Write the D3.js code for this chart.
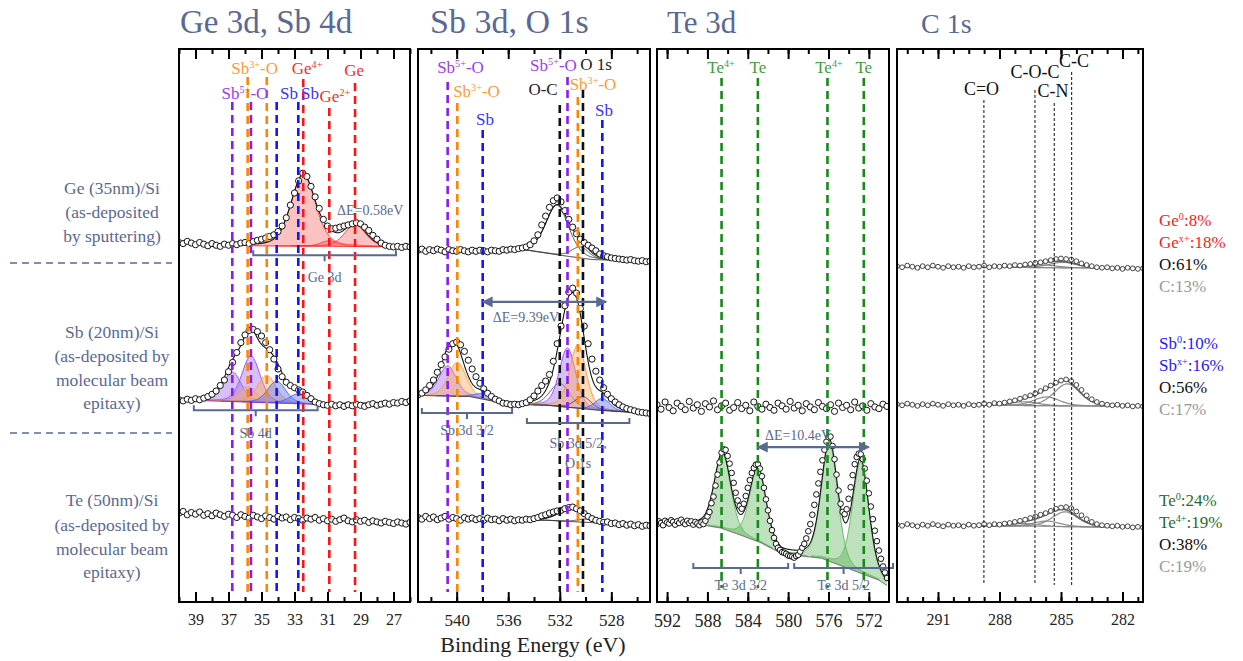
<!DOCTYPE html>
<html>
<head>
<meta charset="utf-8">
<script src="https://cdn.jsdelivr.net/npm/d3@7"></script>
<style>
  body { margin: 0; background: #fff; }
  svg, svg text { font-family: "Liberation Serif", "Times New Roman", serif; }
</style>
</head>
<body>
<svg id="chart" width="1243" height="661"></svg>
<script>
// ---- measured counts (a.u.), one array per film / core level ----
// Ge 3d, Sb 4d window: 40 -> 26 eV, 0.25 eV steps
const geFilmGe3d = [6.50,6.48,6.52,6.49,6.46,6.50,6.47,6.44,6.48,6.45,6.43,6.47,6.45,6.48,6.46,6.49,6.50,6.48,6.52,6.54,6.56,6.58,6.61,6.64,6.70,6.80,6.95,7.18,7.40,7.62,7.76,7.70,7.52,7.33,7.12,6.92,6.80,6.75,6.76,6.78,6.80,6.82,6.84,6.86,6.84,6.78,6.72,6.63,6.56,6.49,6.45,6.43,6.42,6.43,6.41,6.43,6.42]
const sbFilmGe3d = [3.64,3.62,3.65,3.63,3.66,3.64,3.67,3.70,3.74,3.80,3.90,4.00,4.15,4.32,4.50,4.68,4.82,4.90,4.92,4.88,4.80,4.68,4.55,4.38,4.20,4.06,3.96,3.90,3.86,3.82,3.78,3.72,3.66,3.60,3.57,3.55,3.54,3.56,3.53,3.55,3.52,3.55,3.53,3.56,3.54,3.52,3.55,3.57,3.54,3.56,3.58,3.56,3.59,3.58,3.61,3.59,3.62]
const teFilmGe3d = [1.58,1.61,1.55,1.59,1.56,1.60,1.54,1.57,1.53,1.58,1.55,1.52,1.56,1.54,1.50,1.55,1.52,1.49,1.54,1.51,1.48,1.53,1.50,1.47,1.52,1.49,1.51,1.46,1.50,1.48,1.45,1.49,1.47,1.50,1.45,1.48,1.44,1.47,1.43,1.46,1.49,1.44,1.42,1.46,1.43,1.45,1.41,1.44,1.42,1.40,1.43,1.41,1.39,1.42,1.40,1.38,1.41]

// Sb 3d, O 1s window: 543 -> 525 eV, 0.3 eV steps
const geFilmSb3d = [6.36,6.38,6.34,6.37,6.35,6.38,6.36,6.33,6.37,6.35,6.34,6.37,6.35,6.33,6.36,6.34,6.36,6.35,6.33,6.36,6.35,6.34,6.37,6.36,6.38,6.37,6.39,6.40,6.42,6.46,6.53,6.64,6.82,6.98,7.14,7.26,7.31,7.24,7.08,6.92,6.78,6.66,6.56,6.50,6.45,6.40,6.35,6.29,6.26,6.24,6.22,6.21,6.20,6.19,6.18,6.19,6.17,6.16,6.17,6.15,6.16]
const sbFilmSb3d = [3.73,3.76,3.82,3.90,4.00,4.14,4.28,4.42,4.56,4.66,4.69,4.64,4.52,4.36,4.20,4.06,3.94,3.84,3.76,3.70,3.65,3.62,3.58,3.57,3.55,3.56,3.55,3.57,3.59,3.64,3.71,3.80,3.90,3.98,4.10,4.34,4.66,4.98,5.35,5.60,5.67,5.58,5.30,4.98,4.66,4.38,4.16,4.00,3.86,3.74,3.66,3.60,3.55,3.51,3.48,3.46,3.44,3.42,3.41,3.40,3.39]
const teFilmSb3d = [1.50,1.47,1.52,1.48,1.51,1.46,1.49,1.52,1.47,1.50,1.48,1.45,1.50,1.47,1.49,1.46,1.48,1.45,1.49,1.46,1.47,1.44,1.48,1.45,1.47,1.44,1.46,1.45,1.47,1.46,1.48,1.50,1.53,1.55,1.58,1.60,1.62,1.63,1.66,1.68,1.69,1.66,1.62,1.57,1.52,1.48,1.45,1.43,1.41,1.42,1.39,1.40,1.37,1.39,1.36,1.38,1.35,1.37,1.34,1.36,1.35]

// Te 3d window: 593 -> 570.2 eV (Sb film 0.4 eV steps, Te film 0.2 eV steps)
const sbFilmTe3d = [3.55,3.47,3.60,3.50,3.44,3.58,3.52,3.46,3.61,3.49,3.55,3.43,3.57,3.51,3.62,3.46,3.53,3.58,3.45,3.50,3.59,3.48,3.54,3.44,3.60,3.52,3.47,3.56,3.50,3.45,3.58,3.53,3.47,3.61,3.49,3.54,3.44,3.57,3.51,3.46,3.59,3.52,3.48,3.55,3.43,3.58,3.50,3.54,3.46,3.60,3.49,3.53,3.45,3.57,3.51,3.48,3.56,3.52]
const teFilmTe3d = [
  1.38,1.43,1.40,1.36,1.44,1.41,1.39,1.45,1.42,1.37,1.43,1.40,1.46,1.41,1.38,1.44,1.40,1.43,1.37,1.42,1.39,1.36,1.41,1.38,1.44,
  1.52,1.60,1.76,1.88,2.08,2.28,2.50,2.68,2.74,2.73,2.62,2.48,2.31,2.13,1.95,1.81,1.71,1.66,1.75,1.89,
  2.04,2.18,2.31,2.40,2.46,2.47,2.39,2.25,2.04,1.83,1.63,1.44,1.27,1.13,1.02,0.95,0.91,0.87,0.86,0.84,
  0.81,0.80,0.79,0.77,0.80,0.82,0.88,0.95,1.02,1.12,1.25,1.38,1.55,1.73,1.92,2.12,2.33,2.54,2.73,2.88,
  2.96,2.97,2.80,2.56,2.28,1.99,1.75,1.60,1.56,1.65,1.84,2.05,2.27,2.47,2.60,2.66,2.65,2.56,2.39,2.17,
  1.94,1.70,1.47,1.26,1.07,0.90,0.75,0.61,0.50,0.40]

// C 1s window: 293 -> 281 eV, 0.25 eV steps
const geFilmC1s = [6.07,6.05,6.08,6.06,6.04,6.07,6.05,6.08,6.06,6.04,6.07,6.05,6.06,6.04,6.07,6.05,6.06,6.08,6.05,6.07,6.06,6.08,6.07,6.09,6.08,6.10,6.11,6.13,6.14,6.16,6.18,6.20,6.21,6.20,6.19,6.16,6.12,6.09,6.07,6.05,6.04,6.05,6.03,6.04,6.02,6.04,6.03,6.02,6.03]
const sbFilmC1s = [3.56,3.54,3.57,3.55,3.53,3.56,3.54,3.57,3.55,3.53,3.56,3.54,3.55,3.53,3.56,3.54,3.55,3.57,3.55,3.58,3.57,3.59,3.61,3.63,3.66,3.69,3.72,3.76,3.80,3.85,3.90,3.95,3.99,4.01,3.98,3.91,3.82,3.72,3.65,3.60,3.57,3.55,3.54,3.55,3.53,3.54,3.52,3.53,3.52]
const teFilmC1s = [1.37,1.35,1.38,1.36,1.34,1.37,1.35,1.38,1.36,1.34,1.37,1.35,1.36,1.34,1.37,1.35,1.36,1.38,1.36,1.38,1.37,1.39,1.40,1.42,1.44,1.46,1.49,1.52,1.55,1.58,1.62,1.66,1.68,1.69,1.67,1.61,1.54,1.47,1.42,1.38,1.36,1.35,1.34,1.35,1.33,1.34,1.32,1.33,1.32]

// ---- peak fits: [centre eV, height, FWHM eV, chemical state] and background knots [eV, a.u.] ----
const fitGeFilmGe3d = [[32.47,1.30,1.75,'Ge'],[30.89,0.10,1.2,'Ge'],[29.33,0.40,1.5,'Ge']]
const bgGeFilmGe3d = [[40,6.48],[35.5,6.44],[26,6.42]]
const fitSbFilmGe3d = [[36.77,0.54,1.3,'Sb5+'],[35.64,0.84,1.3,'Sb5+'],[35.84,0.28,1.2,'Sb3+'],[34.68,0.50,1.3,'Sb3+'],[34.08,0.40,1.3,'Sb0'],[32.77,0.18,1.3,'Sb0']]
const bgSbFilmGe3d = [[40,3.64],[31,3.55],[26,3.60]]
const fitGeFilmSb3d = [[532.2,0.90,2.1,'O'],[530.4,0.20,1.6,'O']]
const bgGeFilmSb3d = [[543,6.36],[534.5,6.36],[532,6.27],[529.5,6.19],[525,6.16]]
const fitSbFilmSb3d = [[540.7,0.55,1.6,'Sb5+'],[539.95,0.62,1.6,'Sb3+'],[537.98,0.10,1.4,'Sb0'],[532.0,0.42,1.8,'O'],[531.4,1.08,1.5,'Sb5+'],[530.6,1.15,1.5,'Sb3+'],[530.2,0.22,1.5,'O'],[528.7,0.22,1.4,'Sb0']]
const bgSbFilmSb3d = [[543,3.72],[539,3.70],[536,3.56],[533,3.54],[529,3.45],[525,3.39]]
const fitTeFilmSb3d = [[531.2,0.22,2.2,'O'],[530.0,0.06,1.5,'O']]
const bgTeFilmSb3d = [[543,1.48],[533,1.45],[529,1.40],[525,1.35]]
const fitTeFilmTe3d = [[586.5,1.36,1.9,'Te'],[583.0,1.33,1.9,'Te'],[575.9,2.15,1.9,'Te'],[572.8,2.02,1.9,'Te']]
const bgTeFilmTe3d = [[593,1.38],[588.7,1.37],[586.7,1.31],[584.7,1.18],[582.7,1.04],[580.7,0.85],[578.7,0.80],[576.7,0.76],[573.7,0.55],[571,0.36],[570,0.24]]
const fitGeFilmC1s = [[284.9,0.10,1.6,'C'],[285.9,0.05,1.6,'C'],[288.6,0.02,1.6,'C']]
const bgGeFilmC1s = [[293,6.06],[281,6.03]]
const fitSbFilmC1s = [[284.7,0.40,1.5,'C'],[285.7,0.16,1.5,'C'],[286.8,0.07,1.6,'C'],[288.7,0.02,1.6,'C']]
const bgSbFilmC1s = [[293,3.55],[281,3.52]]
const fitTeFilmC1s = [[284.8,0.27,1.5,'C'],[285.7,0.10,1.5,'C'],[286.8,0.05,1.6,'C']]
const bgTeFilmC1s = [[293,1.36],[281,1.32]]

// ---- reference binding energies (dashed markers) ----
const ge3dRefE = [36.77, 35.64, 35.84, 34.68, 34.08, 32.77, 32.47, 30.89, 29.33]
const ge3dRefState = ['Sb5+','Sb5+','Sb3+','Sb3+','Sb0','Sb0','Ge','Ge','Ge']
const sb3dRefE = [540.7, 539.95, 537.98, 532.0, 531.4, 530.6, 530.2, 528.7]
const sb3dRefState = ['Sb5+','Sb3+','Sb0','O','Sb5+','Sb3+','O','Sb0']
const te3dRefE = [586.6, 583.0, 576.1, 572.5]
const te3dRefState = ['Te','Te','Te','Te']
const c1sRefE = [288.76, 286.27, 285.33, 284.48]
const c1sRefState = ['C','C','C','C']

// ---- atomic composition (%) ----
const compGeFilm = [8, 18, 61, 13]
const compSbFilm = [10, 16, 56, 17]
const compTeFilm = [24, 19, 38, 19]
const compGeNames = ['Ge^0^', 'Ge^x+^', 'O', 'C']
const compSbNames = ['Sb^0^', 'Sb^x+^', 'O', 'C']
const compTeNames = ['Te^0^', 'Te^4+^', 'O', 'C']

const filmNames = [
  ['Ge (35nm)/Si', '(as-deposited', 'by sputtering)'],
  ['Sb (20nm)/Si', '(as-deposited by', 'molecular beam', 'epitaxy)'],
  ['Te (50nm)/Si', '(as-deposited by', 'molecular beam', 'epitaxy)']
]

// ---- styles ----
const slate = '#5a6994'
const stateStyle = {
  'Sb5+': { line: '#8a1cf2', label: '#9a3df5', fill: 'rgba(165,115,238,0.45)', stroke: '#9b4df0', w: 1 },
  'Sb3+': { line: '#ff8400', label: '#ff9a3a', fill: 'rgba(252,172,100,0.45)', stroke: '#ff9940', w: 1 },
  Sb0: { line: '#1414ff', label: '#3535ff', fill: 'rgba(95,115,245,0.45)', stroke: '#4a5cff', w: 1 },
  Ge: { line: '#ff1414', label: '#ff2a2a', fill: 'rgba(245,110,110,0.42)', stroke: '#ff3030', w: 1 },
  Te: { line: '#178a17', label: '#3f9f3f', fill: 'rgba(80,175,80,0.38)', stroke: '#66bb66', w: 1 },
  O: { line: '#111', label: '#222', fill: null, stroke: '#222', w: 0.8 },
  C: { line: '#111', label: '#111', fill: null, stroke: '#8a8a8a', w: 1.2 }
}
const compColors = [
  ['#ff1a1a', '#ff1a1a', '#111', '#999'],
  ['#1a1aff', '#1a1aff', '#111', '#999'],
  ['#1f6e2c', '#1f6e2c', '#111', '#999']
]

// ---- layout ----
const frameTop = 49, frameBottom = 602
const y = d3.scaleLinear().domain([0, 10]).range([600, 50])

const panels = [
  { title: 'Ge 3d, Sb 4d', titleX: 180, titleSize: 33, left: 179, right: 410, domain: [40, 26],
    major: d3.range(27, 40, 2), minor: d3.range(26, 41, 1), tickFont: 16,
    refE: ge3dRefE, refState: ge3dRefState, refTop: [102,102,77,77,102,102,79,108,83], refBottom: 592 },
  { title: 'Sb 3d, O 1s', titleX: 430, titleSize: 34, left: 418, right: 650, domain: [543, 525],
    major: d3.range(528, 541, 4), minor: d3.range(526, 543, 2), tickFont: 17,
    refE: sb3dRefE, refState: sb3dRefState, refTop: [82,103,130,105,77,97,90,120], refBottom: 592 },
  { title: 'Te 3d', titleX: 667, titleSize: 31, left: 657, right: 889, domain: [593, 570],
    major: d3.range(572, 593, 4), minor: d3.range(572, 593, 2), tickFont: 18,
    refE: te3dRefE, refState: te3dRefState, refTop: [78,78,78,78], refBottom: 588 },
  { title: 'C 1s', titleX: 921, titleSize: 28, left: 897, right: 1143, domain: [293, 281],
    major: [282, 285, 288, 291], minor: d3.range(281.25, 293, 0.75), tickFont: 16,
    refE: c1sRefE, refState: c1sRefState, refTop: [100,90,103,72], refBottom: 585, thin: true }
]

const spectra = [
  { panel: 0, start: 40, step: 0.25, counts: geFilmGe3d, fit: fitGeFilmGe3d, bg: bgGeFilmGe3d, bgColor: '#ff2020' },
  { panel: 0, start: 40, step: 0.25, counts: sbFilmGe3d, fit: fitSbFilmGe3d, bg: bgSbFilmGe3d, bgColor: '#7a2ad8' },
  { panel: 0, start: 40, step: 0.25, counts: teFilmGe3d },
  { panel: 1, start: 543, step: 0.3, counts: geFilmSb3d, fit: fitGeFilmSb3d, bg: bgGeFilmSb3d, bgColor: '#222' },
  { panel: 1, start: 543, step: 0.3, counts: sbFilmSb3d, fit: fitSbFilmSb3d, bg: bgSbFilmSb3d, bgColor: '#222' },
  { panel: 1, start: 543, step: 0.3, counts: teFilmSb3d, fit: fitTeFilmSb3d, bg: bgTeFilmSb3d, bgColor: '#222' },
  { panel: 2, start: 593, step: 0.4, counts: sbFilmTe3d },
  { panel: 2, start: 593, step: 0.2, counts: teFilmTe3d, fit: fitTeFilmTe3d, bg: bgTeFilmTe3d, bgColor: '#555', r: 2.8 },
  { panel: 3, start: 293, step: 0.25, counts: geFilmC1s, fit: fitGeFilmC1s, bg: bgGeFilmC1s, bgColor: '#888' },
  { panel: 3, start: 293, step: 0.25, counts: sbFilmC1s, fit: fitSbFilmC1s, bg: bgSbFilmC1s, bgColor: '#888' },
  { panel: 3, start: 293, step: 0.25, counts: teFilmC1s, fit: fitTeFilmC1s, bg: bgTeFilmC1s, bgColor: '#888' }
]

// marker labels: [text, eV, baseline px, state]
const refLabels = [
  [['Sb^5+^-O', 36.0, 99, 'Sb5+'], ['Sb^3+^-O', 35.42, 74, 'Sb3+'], ['Sb', 33.33, 99, 'Sb0'], ['Sb', 32.06, 99, 'Sb0'],
   ['Ge^4+', 32.24, 74, 'Ge'], ['Ge', 29.39, 76, 'Ge'], ['Ge^2+', 30.55, 102, 'Ge']],
  [['Sb^5+^-O', 539.7, 73, 'Sb5+'], ['Sb^3+^-O', 538.46, 97, 'Sb3+'], ['Sb', 537.8, 125, 'Sb0'], ['Sb^5+^-O', 532.49, 71, 'Sb5+'],
   ['O 1s', 529.19, 70, 'O'], ['O-C', 533.3, 95, 'O'], ['Sb^3+^-O', 529.42, 90, 'Sb3+'], ['Sb', 528.57, 116, 'Sb0']],
  [['Te^4+', 586.65, 73, 'Te'], ['Te', 583.0, 73, 'Te'], ['Te^4+', 575.95, 73, 'Te'], ['Te', 572.5, 73, 'Te']],
  [['C=O', 288.88, 95, 'C'], ['C-O-C', 286.27, 78, 'C'], ['C-N', 285.39, 97, 'C'], ['C-C', 284.37, 67, 'C']]
]

const brackets = [
  { panel: 0, from: 35.5, to: 26.85, level: 6.27, gap: 27, text: ['Ge 3d'] },
  { panel: 0, from: 39.1, to: 31.6, level: 3.45, gap: 28, text: ['Sb 4d'] },
  { panel: 1, from: 542.7, to: 535.7, level: 3.40, gap: 22, text: ['Sb 3d 3/2'] },
  { panel: 1, from: 534.55, to: 526.6, level: 3.22, gap: 25, text: ['Sb 3d 5/2,', 'O 1s'] },
  { panel: 2, from: 589.4, to: 580.0, level: 0.58, gap: 22, text: ['Te 3d 3/2'] },
  { panel: 2, from: 579.4, to: 569.6, level: 0.58, gap: 22, text: ['Te 3d 5/2'] }
]

const splittings = [
  { panel: 0, text: 'ΔE=0.58eV', at: 30.42, level: 7.0, dy: 0 },
  { panel: 1, text: 'ΔE=9.39eV', at: 537.2, level: 5.42, dy: 20, from: 537.98, to: 528.4 },
  { panel: 2, text: 'ΔE=10.4eV', at: 582.3, level: 2.78, dy: -7, from: 583.0, to: 572.0 }
]

// ---- helpers ----
const svg = d3.select('#chart')

const pv = (e, c, w) => {
  const d = (e - c) / w
  return 0.7 * Math.exp(-4 * Math.LN2 * d * d) + 0.3 / (1 + 4 * d * d)
}

// text with ^superscript^ parts
function richText(sel, str, size) {
  const rise = size * 0.38
  let up = false
  str.split('^').forEach((part, i) => {
    if (!part) return
    const sup = i % 2 === 1
    const t = sel.append('tspan').attr('font-size', sup ? size * 0.6 : size)
    if (sup !== up) { t.attr('dy', sup ? -rise : rise); up = sup }
    t.text(part)
  })
  return sel
}

const defs = svg.append('defs')
defs.append('marker').attr('id', 'arrow').attr('viewBox', '0 0 10 10')
  .attr('refX', 9).attr('refY', 5).attr('markerWidth', 5).attr('markerHeight', 5)
  .attr('orient', 'auto-start-reverse')
  .append('path').attr('d', 'M0,0L10,5L0,10z').attr('fill', slate)

panels.forEach((p, i) => {
  p.x = d3.scaleLinear().domain(p.domain).range([p.left, p.right])
  defs.append('clipPath').attr('id', 'clip' + i)
    .append('rect').attr('x', p.left).attr('y', frameTop)
    .attr('width', p.right - p.left).attr('height', frameBottom - frameTop)
})

// ---- spectra ----
spectra.forEach(s => {
  const x = panels[s.panel].x
  const g = svg.append('g').attr('clip-path', `url(#clip${s.panel})`)
  const energies = s.counts.map((_, i) => s.start - i * s.step)
  const eLo = d3.min(energies), eHi = d3.max(energies)

  if (s.fit) {
    const bg = d3.scaleLinear().domain(s.bg.map(d => d[0])).range(s.bg.map(d => d[1])).clamp(true)
    s.fit.forEach(([c, h, w, state]) => {
      const st = stateStyle[state]
      const grid = d3.range(Math.max(eLo, c - 2.6 * w), Math.min(eHi, c + 2.6 * w), 0.03)
      if (st.fill) {
        g.append('path').datum(grid)
          .attr('d', d3.area().x(e => x(e)).y0(e => y(bg(e))).y1(e => y(bg(e) + h * pv(e, c, w))))
          .attr('fill', st.fill)
      }
      g.append('path').datum(grid)
        .attr('d', d3.line().x(e => x(e)).y(e => y(bg(e) + h * pv(e, c, w))))
        .attr('fill', 'none').attr('stroke', st.stroke).attr('stroke-width', st.w)
    })
    const full = d3.range(eLo, eHi, 0.03)
    g.append('path').datum(full)
      .attr('d', d3.line().x(e => x(e)).y(e => y(bg(e))))
      .attr('fill', 'none').attr('stroke', s.bgColor).attr('stroke-width', 1)
    const envelope = e => bg(e) + d3.sum(s.fit, ([c, h, w]) => h * pv(e, c, w))
    g.append('path').datum(full)
      .attr('d', d3.line().x(e => x(e)).y(e => y(envelope(e))))
      .attr('fill', 'none').attr('stroke', s.panel === 3 ? '#666' : '#111')
      .attr('stroke-width', s.panel === 3 ? 1.6 : 1.1)
  }

  g.selectAll('circle.pt').data(s.counts).join('circle')
    .attr('class', 'pt')
    .attr('cx', (d, i) => x(energies[i]))
    .attr('cy', d => y(d))
    .attr('r', s.r || (s.panel === 3 ? 2.4 : 3.1))
    .attr('fill', '#fff')
    .attr('stroke', s.panel === 3 ? '#444' : '#111')
    .attr('stroke-width', 1)
})

// ---- reference markers, labels ----
panels.forEach((p, i) => {
  const g = svg.append('g')
  g.selectAll('line.ref').data(p.refE).join('line')
    .attr('x1', d => p.x(d)).attr('x2', d => p.x(d))
    .attr('y1', (d, j) => p.refTop[j]).attr('y2', p.refBottom)
    .attr('stroke', (d, j) => stateStyle[p.refState[j]].line)
    .attr('stroke-width', p.thin ? 1 : 2.6)
    .attr('stroke-dasharray', p.thin ? '3,2' : '8,5')

  refLabels[i].forEach(([txt, e, base, state]) => {
    const t = g.append('text').attr('x', p.x(e)).attr('y', base)
      .attr('text-anchor', 'middle').attr('fill', stateStyle[state].label)
    richText(t, txt, p.thin ? 18 : 17)
  })
})

// ---- brackets and splittings ----
brackets.forEach(b => {
  const x = panels[b.panel].x
  const x0 = x(b.from), x1 = x(b.to), yy = y(b.level), xm = (x0 + x1) / 2
  svg.append('path')
    .attr('d', `M${x0},${yy - 5}V${yy}H${x1}V${yy - 5}M${xm},${yy}V${yy + 6}`)
    .attr('fill', 'none').attr('stroke', slate).attr('stroke-width', 2)
  b.text.forEach((line, k) => {
    svg.append('text').attr('x', xm).attr('y', yy + b.gap + k * 20)
      .attr('text-anchor', 'middle').attr('font-size', 14).attr('fill', slate).text(line)
  })
})

splittings.forEach(s => {
  const x = panels[s.panel].x
  if (s.from !== undefined) {
    svg.append('line')
      .attr('x1', x(s.from)).attr('x2', x(s.to)).attr('y1', y(s.level)).attr('y2', y(s.level))
      .attr('stroke', slate).attr('stroke-width', 2.2)
      .attr('marker-start', 'url(#arrow)').attr('marker-end', 'url(#arrow)')
  }
  svg.append('text').attr('x', x(s.at)).attr('y', y(s.level) + s.dy)
    .attr('font-size', 14).attr('fill', slate).text(s.text)
})

// ---- frames, axes, titles ----
panels.forEach(p => {
  const g = svg.append('g')
  const bottom = d3.axisBottom(p.x).tickValues(p.major).tickSize(-10).tickPadding(12).tickFormat(d3.format('d'))
  const bottomMinor = d3.axisBottom(p.x).tickValues(p.minor).tickSize(-5).tickFormat('')
  const top = d3.axisTop(p.x).tickValues(p.major).tickSize(-10).tickFormat('')
  const topMinor = d3.axisTop(p.x).tickValues(p.minor).tickSize(-5).tickFormat('')
  ;[[bottom, frameBottom], [bottomMinor, frameBottom], [top, frameTop], [topMinor, frameTop]].forEach(([ax, yy]) => {
    const a = g.append('g').attr('transform', `translate(0,${yy})`).call(ax)
      .attr('font-family', null).attr('font-size', null)
    a.select('.domain').remove()
    a.selectAll('.tick line').attr('stroke', '#000').attr('stroke-width', 2)
    a.selectAll('.tick text').attr('font-size', p.tickFont).attr('fill', '#222')
  })
  g.append('rect').attr('x', p.left).attr('y', frameTop)
    .attr('width', p.right - p.left).attr('height', frameBottom - frameTop)
    .attr('fill', 'none').attr('stroke', '#000').attr('stroke-width', 2)
  svg.append('text').attr('x', p.titleX).attr('y', 33)
    .attr('font-size', p.titleSize).attr('fill', slate).text(p.title)
})

svg.append('text').attr('x', 533).attr('y', 652).attr('text-anchor', 'middle')
  .attr('font-size', 22).attr('fill', '#222').text('Binding Energy (eV)')

// ---- film descriptions and separators ----
const filmBaselines = [[194, 218, 242], [338, 362, 386, 409], [506, 531, 555, 578]]
filmNames.forEach((lines, i) => {
  lines.forEach((line, k) => {
    svg.append('text').attr('x', 112).attr('y', filmBaselines[i][k])
      .attr('text-anchor', 'middle').attr('font-size', 17.5).attr('fill', slate).text(line)
  })
})
;[263, 433].forEach(yy => {
  svg.append('line').attr('x1', 10).attr('x2', 172).attr('y1', yy).attr('y2', yy)
    .attr('stroke', slate).attr('stroke-width', 1.5).attr('stroke-dasharray', '7,5')
})

// ---- composition ----
const compRows = [
  { names: compGeNames, values: compGeFilm, base: 226 },
  { names: compSbNames, values: compSbFilm, base: 349 },
  { names: compTeNames, values: compTeFilm, base: 506 }
]
compRows.forEach((r, i) => {
  r.values.forEach((v, k) => {
    const t = svg.append('text').attr('x', 1159).attr('y', r.base + k * 22).attr('fill', compColors[i][k])
    richText(t, `${r.names[k]}:${v}%`, 17)
  })
})
</script>
</body>
</html>
